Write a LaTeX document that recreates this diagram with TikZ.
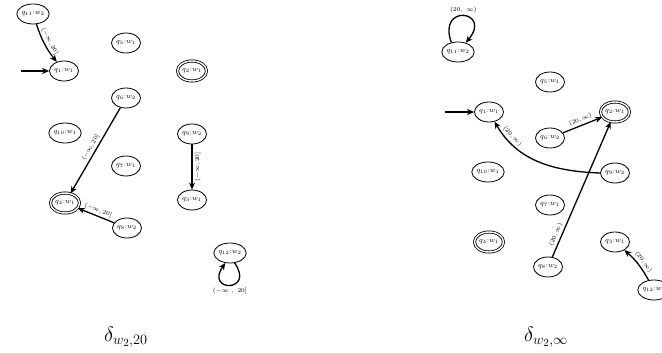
\documentclass[tikz,border=0pt]{standalone}
\usetikzlibrary{arrows.meta,shapes.geometric}
\begin{document}
\begin{tikzpicture}[x=1pt,y=1pt,
  state/.style={ellipse,draw,line width=0.8pt,minimum width=29pt,minimum height=20pt,
    inner sep=0pt,font=\fontsize{7.5}{8}\selectfont},
  accept/.style={state,double,double distance=1.4pt},
  trans/.style={line width=1.3pt,-{Stealth[length=7pt,width=6pt]}},
  lbl/.style={font=\fontsize{6.5}{7}\selectfont,inner sep=2pt},
  captext/.style={font=\fontsize{22}{24}\selectfont,anchor=base west,inner sep=0pt}]
\useasboundingbox (0,0) rectangle (662,-353);

% ---- left automaton ----
\node[state]  (a11) at (33,-14)  {$q_{11}{:}w_2$};
\node[state]  (a1)  at (64,-71)  {$q_{1}{:}w_1$};
\node[state]  (a5)  at (126,-43) {$q_{5}{:}w_1$};
\node[accept] (a2)  at (192,-71) {$q_{2}{:}w_1$};
\node[state]  (a6)  at (126,-98) {$q_{6}{:}w_2$};
\node[state]  (a10) at (65,-133) {$q_{10}{:}w_1$};
\node[state]  (a9)  at (192,-134){$q_{9}{:}w_2$};
\node[state]  (a7)  at (126,-166){$q_{7}{:}w_1$};
\node[state]  (a3)  at (192,-200){$q_{3}{:}w_1$};
\node[accept] (a4)  at (65,-203) {$q_{4}{:}w_1$};
\node[state]  (a8)  at (127,-228){$q_{8}{:}w_2$};
\node[state]  (a12) at (230,-253){$q_{12}{:}w_2$};

\coordinate (sa) at (21,-71);
\draw[trans] (sa) -- (a1);
\draw[trans] (a11) to[bend right=10] node[lbl,sloped,above] {$(-\infty,20]$} (a1);
\draw[trans] (a6) -- node[lbl,sloped,above] {$(-\infty,20]$} (a4);
\draw[trans] (a9) -- node[lbl,midway,rotate=90,anchor=north] {$(-\infty,20]$} (a3);
\draw[trans] (a8) -- node[lbl,sloped,above] {$(-\infty,20]$} (a4);
\draw[trans] (a12.-65) .. controls +(-55:36) and +(-125:36) .. node[lbl,below] {$(-\infty\ ,\ 20]$} (a12.-115);

\node[captext] (capL) at (104,-341) {$\delta_{w_2,20}$};

% ---- right automaton ----
\node[state]  (b11) at (458,-52) {$q_{11}{:}w_2$};
\node[state]  (b1)  at (489,-112){$q_{1}{:}w_1$};
\node[state]  (b5)  at (550,-82) {$q_{5}{:}w_1$};
\node[accept] (b2)  at (615,-112){$q_{2}{:}w_1$};
\node[state]  (b6)  at (550,-138){$q_{6}{:}w_2$};
\node[state]  (b10) at (488,-172){$q_{10}{:}w_1$};
\node[state]  (b9)  at (615,-173){$q_{9}{:}w_2$};
\node[state]  (b7)  at (550,-205){$q_{7}{:}w_1$};
\node[accept] (b4)  at (489,-242){$q_{4}{:}w_1$};
\node[state]  (b3)  at (615,-242){$q_{3}{:}w_1$};
\node[state]  (b8)  at (548,-267){$q_{8}{:}w_2$};
\node[state]  (b12) at (654,-290){$q_{12}{:}w_2$};

\coordinate (sb) at (445,-112);
\draw[trans] (sb) -- (b1);
\draw[trans] (b11.125) .. controls +(110:42) and +(50:42) .. node[lbl,above] {$(20,\ \infty)$} (b11.50);
\draw[trans] (b6) -- node[lbl,sloped,above] {$(20,\infty)$} (b2);
\draw[trans] (b9.west) to[out=178,in=-60] node[lbl,sloped,above,pos=0.82] {$(20,\infty)$} (b1);
\draw[trans] (b8) -- node[lbl,sloped,above,pos=0.15] {$(20,\infty)$} (b2);
\draw[trans] (b12) to[bend right=10] node[lbl,sloped,above,pos=0.45] {$(20,\infty)$} (b3);

\node[captext] (capR) at (524,-341) {$\delta_{w_2,\infty}$};
\end{tikzpicture}
\end{document}
